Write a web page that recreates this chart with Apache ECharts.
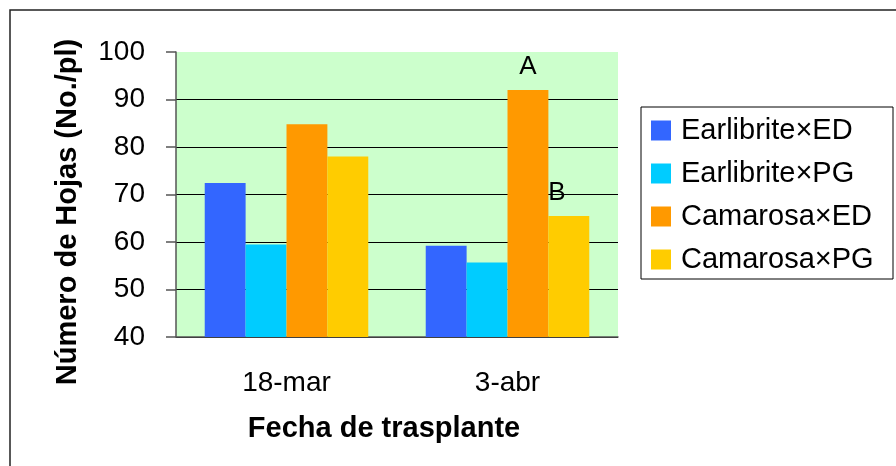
<!DOCTYPE html>
<html>
<head>
<meta charset="utf-8">
<script src="https://cdn.jsdelivr.net/npm/echarts@6/dist/echarts.min.js"></script>
<style>
  html, body { margin: 0; padding: 0; background: #fff; }
  #chart { width: 896px; height: 466px; }
</style>
</head>
<body>
<div id="chart"></div>
<script>
// datos
var fechas = ['18-mar', '3-abr'];
var earlibriteED = [72.4, 59.2];
var earlibritePG = [59.5, 55.7];
var camarosaED = [84.8, 92.0];
var camarosaPG = [78.0, 65.5];
var letrasCamarosaED = ['', 'A'];
var letrasCamarosaPG = ['', 'B'];
var nombres = ['Earlibrite×ED', 'Earlibrite×PG', 'Camarosa×ED', 'Camarosa×PG'];
var colores = ['#3366FF', '#00CCFF', '#FF9900', '#FFCC00'];

var fuente = 'Liberation Sans, Arial, sans-serif';

function conLetras(valores, letras, desplazamiento) {
    return valores.map(function (v, i) {
        if (!letras[i]) return v;
        return {
            value: v,
            label: {
                show: true, position: 'top', distance: 10,
                offset: [desplazamiento, 0],
                formatter: letras[i],
                color: '#000', fontFamily: fuente, fontSize: 26
            }
        };
    });
}

var chart = echarts.init(document.getElementById('chart'));

var option = {
    animation: false,
    backgroundColor: '#fff',
    grid: {
        left: 176, top: 52, right: 278, bottom: 129,
        show: true, backgroundColor: '#CCFFCC', borderWidth: 0
    },
    xAxis: {
        type: 'category',
        data: fechas,
        axisLine: { lineStyle: { color: '#555', width: 1.5 } },
        axisTick: { length: 8, lineStyle: { color: '#555', width: 1.5 } },
        axisLabel: { color: '#000', fontFamily: fuente, fontSize: 28, margin: 32 }
    },
    yAxis: {
        type: 'value',
        min: 40, max: 100, interval: 10,
        axisLine: { show: true, lineStyle: { color: '#555', width: 1.5 } },
        axisTick: { show: true, length: 10, lineStyle: { color: '#555', width: 1.5 } },
        axisLabel: { color: '#000', fontFamily: fuente, fontSize: 28, margin: 31 },
        splitLine: { show: true, showMaxLine: false, lineStyle: { color: '#000', width: 1 } }
    },
    graphic: [
        {
            type: 'rect', silent: true,
            shape: { x: 10, y: 10, width: 900, height: 500 },
            style: { fill: null, stroke: '#222', lineWidth: 1.5 }
        },
        {
            type: 'text', x: 68, y: 212, rotation: Math.PI / 2,
            style: {
                text: 'Número de Hojas (No./pl)', fill: '#000',
                font: 'bold 29px Liberation Sans, Arial, sans-serif',
                textAlign: 'center', textVerticalAlign: 'middle'
            }
        },
        {
            type: 'text', x: 384, y: 429,
            style: {
                text: 'Fecha de trasplante', fill: '#000',
                font: 'bold 29px Liberation Sans, Arial, sans-serif',
                textAlign: 'center', textVerticalAlign: 'middle'
            }
        },
        {
            type: 'rect', silent: true,
            shape: { x: 641, y: 107, width: 252, height: 172 },
            style: { fill: '#fff', stroke: '#000', lineWidth: 1 }
        }
    ],
    legend: {
        show: true,
        orient: 'vertical',
        left: 651, top: 116,
        padding: 0,
        itemWidth: 20, itemHeight: 20, itemGap: 14,
        icon: 'rect',
        selectedMode: false,
        data: nombres,
        textStyle: { color: '#000', fontFamily: fuente, fontSize: 29, padding: [0, 0, 0, 5] }
    },
    series: [
        { name: nombres[0], type: 'bar', data: earlibriteED, barGap: '0%', barCategoryGap: '26%', itemStyle: { color: colores[0] } },
        { name: nombres[1], type: 'bar', data: earlibritePG, itemStyle: { color: colores[1] } },
        { name: nombres[2], type: 'bar', data: conLetras(camarosaED, letrasCamarosaED, 0), itemStyle: { color: colores[2] } },
        { name: nombres[3], type: 'bar', data: conLetras(camarosaPG, letrasCamarosaPG, -12), itemStyle: { color: colores[3] } }
    ]
};

chart.setOption(option);
</script>
</body>
</html>
